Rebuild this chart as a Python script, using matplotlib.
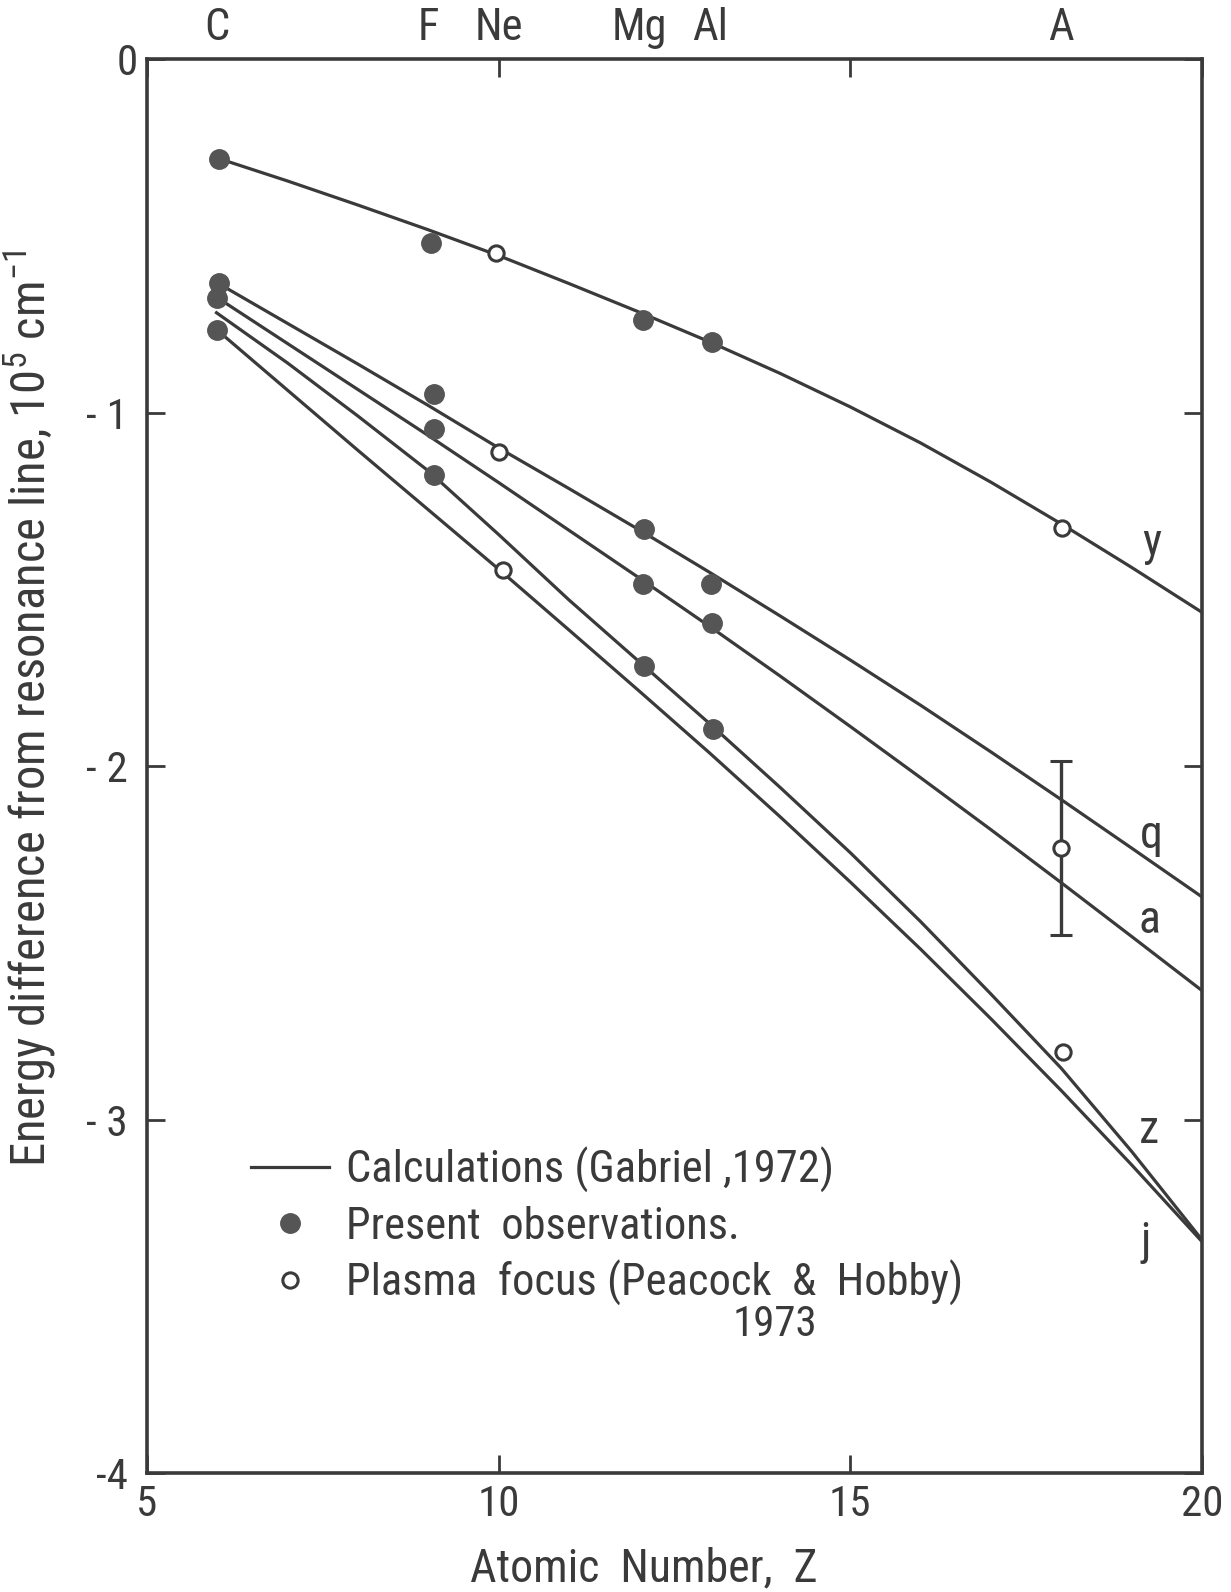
import numpy as np
import matplotlib.pyplot as plt
from matplotlib import font_manager
from matplotlib.lines import Line2D

# narrow lettering if a condensed face is installed
names = {f.name for f in font_manager.fontManager.ttflist}
prefer = ['Roboto Condensed', 'Liberation Sans Narrow', 'Open Sans Condensed',
          'Noto Sans', 'DejaVu Sans']
family = [f for f in prefer if f in names] or ['DejaVu Sans']
plt.rcParams['font.family'] = family
plt.rcParams['font.stretch'] = 'condensed'
plt.rcParams['mathtext.fontset'] = 'custom'
plt.rcParams['mathtext.rm'] = family[0]

INK = '#3a3a3a'
DOT = '#555555'

# ---------------------------------------------------------------------------
# data (Z, energy difference in 1e5 cm^-1)
# ---------------------------------------------------------------------------
z_calc = [6, 7, 8, 9, 10, 11, 12, 13, 14, 15, 16, 17, 18, 19, 20]
calc_y = [-0.28, -0.345, -0.413, -0.483, -0.556, -0.635, -0.716, -0.80,
          -0.889, -0.984, -1.086, -1.197, -1.315, -1.438, -1.565]
calc_q = [-0.633, -0.748, -0.863, -0.98, -1.10, -1.215, -1.332, -1.452,
          -1.575, -1.70, -1.828, -1.96, -2.095, -2.232, -2.37]
calc_a = [-0.675, -0.805, -0.935, -1.065, -1.198, -1.333, -1.468, -1.605,
          -1.745, -1.888, -2.033, -2.18, -2.33, -2.482, -2.635]
z_calc_z = [5.97, 7, 8, 9, 10, 11, 12, 13, 14, 15, 16, 17, 18, 19, 20]
calc_z = [-0.715, -0.86, -1.01, -1.165, -1.345, -1.53, -1.705, -1.88,
          -2.06, -2.245, -2.44, -2.645, -2.855, -3.09, -3.34]
calc_j = [-0.767, -0.937, -1.107, -1.275, -1.443, -1.615, -1.788, -1.963,
          -2.143, -2.328, -2.518, -2.715, -2.918, -3.128, -3.345]

# present observations (filled)
obs_z = [6.02, 6.02, 6.0, 6.0,
         9.04, 9.08, 9.08, 9.08,
         12.05, 12.07, 12.05, 12.06,
         13.04, 13.02, 13.04, 13.05]
obs_e = [-0.284, -0.633, -0.675, -0.767,
         -0.519, -0.947, -1.047, -1.178,
         -0.738, -1.328, -1.486, -1.717,
         -0.80, -1.486, -1.594, -1.894]

# plasma focus (open)
pf_z = [9.96, 10.01, 10.06, 18.01, 18.02]
pf_e = [-0.548, -1.111, -1.445, -1.326, -2.808]
# argon point with error bar (between q and a)
pf_err_z = [18.0]
pf_err_e = [-2.232]
pf_err = [0.246]

line_names = ['y', 'q', 'a', 'z', 'j']
name_z = [19.28, 19.28, 19.25, 19.25, 19.2]
name_e = [-1.37, -2.195, -2.435, -3.03, -3.345]

elements = ['C', 'F', 'Ne', 'Mg', 'Al', 'A']
element_z = [6, 9, 10, 12, 13, 18]

# ---------------------------------------------------------------------------
fig = plt.figure(figsize=(12.31, 15.92), dpi=100)
ax = fig.add_axes([0.1194, 0.0747, 0.8570, 0.8882])

lw = 2.3
for zz, ee in [(z_calc, calc_y), (z_calc, calc_q), (z_calc, calc_a),
               (z_calc_z, calc_z), (z_calc, calc_j)]:
    ax.plot(zz, ee, color=INK, lw=lw, solid_capstyle='butt',
            solid_joinstyle='round')

ax.plot(obs_z, obs_e, 'o', ms=14, color=DOT, mec=DOT, zorder=3)
ax.plot(pf_z, pf_e, 'o', ms=11, mfc='white', mec=INK, mew=2.2, zorder=4)
ax.errorbar(pf_err_z, pf_err_e, yerr=pf_err, fmt='o', ms=11, mfc='white',
            mec=INK, mew=2.2, ecolor=INK, elinewidth=2.4, capsize=8,
            capthick=2.4, zorder=4)

for nm, x, y in zip(line_names, name_z, name_e):
    ax.text(x, y, nm, fontsize=33, color=INK, ha='center', va='center')

ax.set_xlim(5, 20)
ax.set_ylim(-4, 0)
ax.set_xticks([5, 10, 15, 20])
ax.set_yticks([0, -1, -2, -3, -4])
ax.set_yticklabels(['0', '- 1', '- 2', '- 3', '-4'])
ax.tick_params(direction='in', length=13, width=2.0, colors=INK,
               labelsize=31, top=True, right=True)
ax.tick_params(axis='y', pad=14)
ax.tick_params(axis='x', pad=8)
ax.get_yticklabels()[0].set_x(0.01)
for sp in ax.spines.values():
    sp.set_linewidth(2.6)
    sp.set_color(INK)

top = ax.secondary_xaxis('top')
top.set_xticks(element_z)
top.set_xticklabels(elements)
top.tick_params(length=0, pad=7, labelsize=32, colors=INK)
top.spines['top'].set_visible(False)

ax.set_xlabel('Atomic  Number,  Z', fontsize=33, color=INK)
ax.xaxis.set_label_coords(0.471, -0.052)
ax.set_ylabel('Energy difference from resonance line, 10$^5$ cm$^{-1}$',
              fontsize=35, color=INK)
ax.yaxis.set_label_coords(-0.083, 0.541)

handles = [Line2D([], [], color=INK, lw=lw),
           Line2D([], [], ls='none', marker='o', ms=14, color=DOT),
           Line2D([], [], ls='none', marker='o', ms=11, mfc='white', mec=INK, mew=2.2)]
labels = ['Calculations (Gabriel ,1972)', 'Present  observations.',
          'Plasma  focus (Peacock  &  Hobby)']
leg = ax.legend(handles, labels, loc='upper left', bbox_to_anchor=(0.082, 0.243),
                frameon=False, fontsize=32, handlelength=1.75, handletextpad=0.38,
                labelspacing=0.28, borderaxespad=0, labelcolor=INK)
ax.text(0.555, 0.105, '1973', transform=ax.transAxes, fontsize=31, color=INK,
        ha='left', va='center')

fig.savefig('out.png', dpi=100)
